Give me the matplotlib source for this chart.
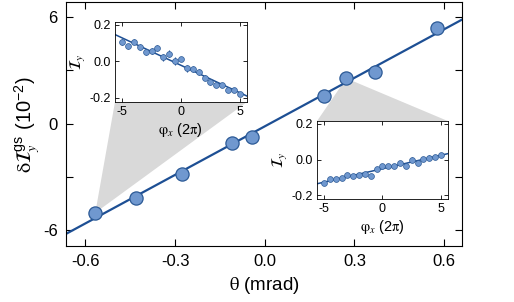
import numpy as np
import matplotlib.pyplot as plt
from matplotlib.patches import Polygon

plt.rcParams['font.family'] = ['Liberation Sans', 'DejaVu Sans']
plt.rcParams['mathtext.fontset'] = 'stix'
plt.rcParams['axes.unicode_minus'] = False

# dati principali
theta = [-0.567, -0.432, -0.277, -0.108, -0.044, 0.198, 0.273, 0.370, 0.576]
dI = [-5.03, -4.17, -2.82, -1.11, -0.77, 1.54, 2.55, 2.92, 5.37]

# inset sinistro (theta = -0.57 mrad)
phi = np.arange(-5, 5.01, 0.5)
I_left = [0.106, 0.082, 0.108, 0.079, 0.049, 0.058, 0.075, 0.022, 0.042, 0.004, 0.013,
          -0.037, -0.040, -0.058, -0.088, -0.115, -0.130, -0.128, -0.155, -0.155, -0.179]
err_left = [0.018, 0.015, 0.012, 0.015, 0.016, 0.015, 0.016, 0.018, 0.020, 0.022, 0.012,
            0.020, 0.016, 0.014, 0.012, 0.012, 0.012, 0.012, 0.014, 0.012, 0.012]

# inset destro (theta = 0.27 mrad)
I_right = [-0.133, -0.109, -0.111, -0.105, -0.089, -0.091, -0.087, -0.080, -0.093, -0.055, -0.038,
           -0.038, -0.036, -0.018, -0.035, 0.000, -0.020, 0.005, 0.011, 0.015, 0.024]
err_right = [0.012] * 21

face = '#7098cf'
edge = '#2c5a96'
lcol = '#1d4f94'
gray = '#d9d9d9'

fig = plt.figure(figsize=(5.14, 3.02), dpi=100)
ax = fig.add_axes([0.1284, 0.1854, 0.7704, 0.808])

# retta di fit
k, q = np.polyfit(theta, dI, 1)
xs = np.array([-0.7, 0.7])
ax.plot(xs, k * xs + q, color=lcol, lw=1.6, zorder=2)
ax.plot(theta, dI, 'o', ms=9.5, mfc=face, mec=edge, mew=0.9, zorder=3)

ax.set_xlim(-0.665, 0.66)
ax.set_ylim(-6.9, 6.85)
ax.set_xticks([-0.6, -0.3, 0.0, 0.3, 0.6])
ax.set_xticklabels(['-0.6', '-0.3', '0.0', '0.3', '0.6'])
ax.set_yticks([-6, -3, 0, 3, 6])
ax.set_yticklabels(['-6', '', '0', '', '6'])
ax.tick_params(direction='in', top=True, right=True, length=5, width=0.8, labelsize=12, pad=6)
for s in ax.spines.values():
    s.set_linewidth(0.8)
ax.set_xlabel(r'$\mathrm{\theta}$ (mrad)', fontsize=13.5, labelpad=4)
ax.set_ylabel(r'$\mathrm{\delta}\mathcal{I}_y^{\mathregular{gs}}$ (10$^{\mathregular{-2}}$)',
              fontsize=14.5, labelpad=1)


def inset(rect, data, err):
    ins = fig.add_axes(rect)
    kk, qq = np.polyfit(phi, data, 1)
    xx = np.array([-6, 6])
    ins.plot(xx, kk * xx + qq, color=lcol, lw=1.1, zorder=2)
    ins.errorbar(phi, data, yerr=err, fmt='o', ms=4.2, mfc=face, mec=edge, mew=0.5,
                 ecolor=lcol, elinewidth=0.8, capsize=0, zorder=3)
    ins.set_xlim(-5.6, 5.6)
    ins.set_ylim(-0.222, 0.216)
    ins.set_xticks([-5, 0, 5])
    ins.set_yticks([-0.2, 0.0, 0.2])
    ins.set_yticklabels(['-0.2', '0.0', '0.2'])
    ins.tick_params(direction='in', top=True, right=True, length=3, width=0.6, labelsize=9, pad=3)
    for s in ins.spines.values():
        s.set_linewidth(0.6)
    ins.set_xlabel(r'$\mathrm{\varphi}_x$ (2$\mathrm{\pi}$)', fontsize=10.5, labelpad=2)
    ins.set_ylabel(r'$\mathcal{I}_y$', fontsize=11.5, labelpad=1)
    return ins


ins1 = inset([0.2237, 0.6623, 0.2568, 0.265], I_left, err_left)
ins2 = inset([0.6167, 0.341, 0.2549, 0.258], I_right, err_right)

# cunei grigi che collegano i punti agli inset
fig.canvas.draw()
inv = ax.transData.inverted()
for i, ins, corners in [(0, ins1, [(1, 0), (0, 0)]), (6, ins2, [(0, 1), (1, 1)])]:
    p = ax.transData.transform((theta[i], dI[i]))
    pts = [p] + [ins.transAxes.transform(c) for c in corners]
    poly = Polygon(inv.transform(pts), closed=True, facecolor=gray, edgecolor='none',
                   zorder=1, clip_on=False)
    ax.add_patch(poly)

fig.savefig('out.png', dpi=100)
